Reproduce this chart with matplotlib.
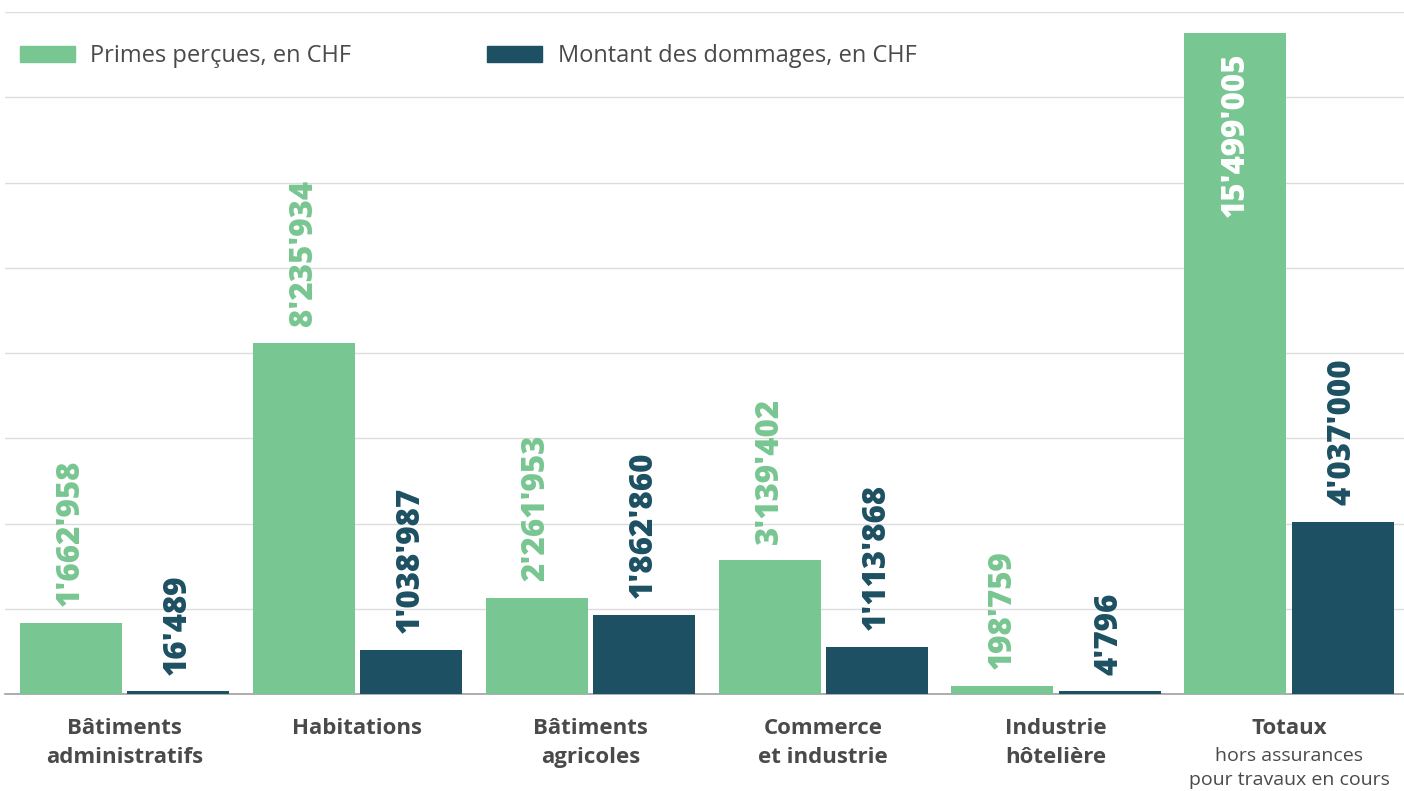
import numpy as np
import matplotlib.pyplot as plt
import matplotlib.transforms as mtransforms

# Data
categories = ['Bâtiments\nadministratifs', 'Habitations', 'Bâtiments\nagricoles',
              'Commerce\net industrie', 'Industrie\nhôtelière', 'Totaux']
subtitles = ['', '', '', '', '', 'hors assurances\npour travaux en cours']
primes = [1662958, 8235934, 2261953, 3139402, 198759, 15499005]
dommages = [16489, 1038987, 1862860, 1113868, 4796, 4037000]
labels_primes = ["1'662'958", "8'235'934", "2'261'953", "3'139'402", "198'759", "15'499'005"]
labels_dommages = ["16'489", "1'038'987", "1'862'860", "1'113'868", "4'796", "4'037'000"]

GREEN = '#78c691'
DARK = '#1c5062'
TEXT = '#4a4a4a'

plt.rcParams['font.family'] = ['Open Sans', 'DejaVu Sans']

fig = plt.figure(figsize=(14.04, 7.91), dpi=100)
ax = fig.add_axes([5 / 1404, 1 - 694 / 791, 1 - 5 / 1404, (694 - 12) / 791])

x = np.arange(len(categories))
w = 0.438
off = 0.23
# tiny values get a minimal visible height, like in the original
min_h = 60000
b1 = ax.bar(x - off, np.maximum(primes, min_h), w, color=GREEN, zorder=3)
b2 = ax.bar(x + off, np.maximum(dommages, min_h), w, color=DARK, zorder=3)

ax.set_xlim(-0.513, 5.494)
ax.set_ylim(0, 16e6)
ax.set_yticks(np.arange(0, 16e6 + 1, 2e6))
ax.grid(axis='y', color='#dcdcdc', linewidth=1, zorder=0)
ax.set_xticks([])
ax.tick_params(left=False, labelleft=False)
for s in ['top', 'right', 'left']:
    ax.spines[s].set_visible(False)
ax.spines['bottom'].set_color('#a0a0a0')
ax.spines['bottom'].set_linewidth(1.2)

# value labels
for i in range(len(categories)):
    for xpos, val, lab, col in [(x[i] - off, primes[i], labels_primes[i], GREEN),
                                (x[i] + off, dommages[i], labels_dommages[i], DARK)]:
        if val > 12e6:
            ax.annotate(lab, (xpos, val), xytext=(0, -14), textcoords='offset points',
                        rotation=90, ha='center', va='top', color='white',
                        fontsize=22.5, fontweight='heavy', zorder=4)
        else:
            ax.annotate(lab, (xpos, max(val, min_h)), xytext=(0, 12), textcoords='offset points',
                        rotation=90, ha='center', va='bottom', color=col,
                        fontsize=22.5, fontweight='heavy', zorder=4)

# category labels
trans = mtransforms.blended_transform_factory(ax.transData, fig.transFigure)
for i, cat in enumerate(categories):
    ax.text(x[i], 1 - 718 / 791, cat, transform=trans, ha='center', va='top',
            fontsize=16, fontweight='bold', color=TEXT, linespacing=1.5)
    if subtitles[i]:
        ax.text(x[i], 1 - 747 / 791, subtitles[i], transform=trans, ha='center', va='top',
                fontsize=14, color=TEXT, linespacing=1.45)

# legend
fig.patches.append(plt.Rectangle((20 / 1404, 1 - 62 / 791), 55 / 1404, 16 / 791,
                                 transform=fig.transFigure, color=GREEN))
fig.text(90 / 1404, 1 - 56 / 791, 'Primes perçues, en CHF', va='center', ha='left',
         fontsize=17, color=TEXT)
fig.patches.append(plt.Rectangle((487 / 1404, 1 - 62 / 791), 55 / 1404, 16 / 791,
                                 transform=fig.transFigure, color=DARK))
fig.text(558 / 1404, 1 - 56 / 791, 'Montant des dommages, en CHF', va='center', ha='left',
         fontsize=17, color=TEXT)

fig.savefig('out.png', dpi=100)
